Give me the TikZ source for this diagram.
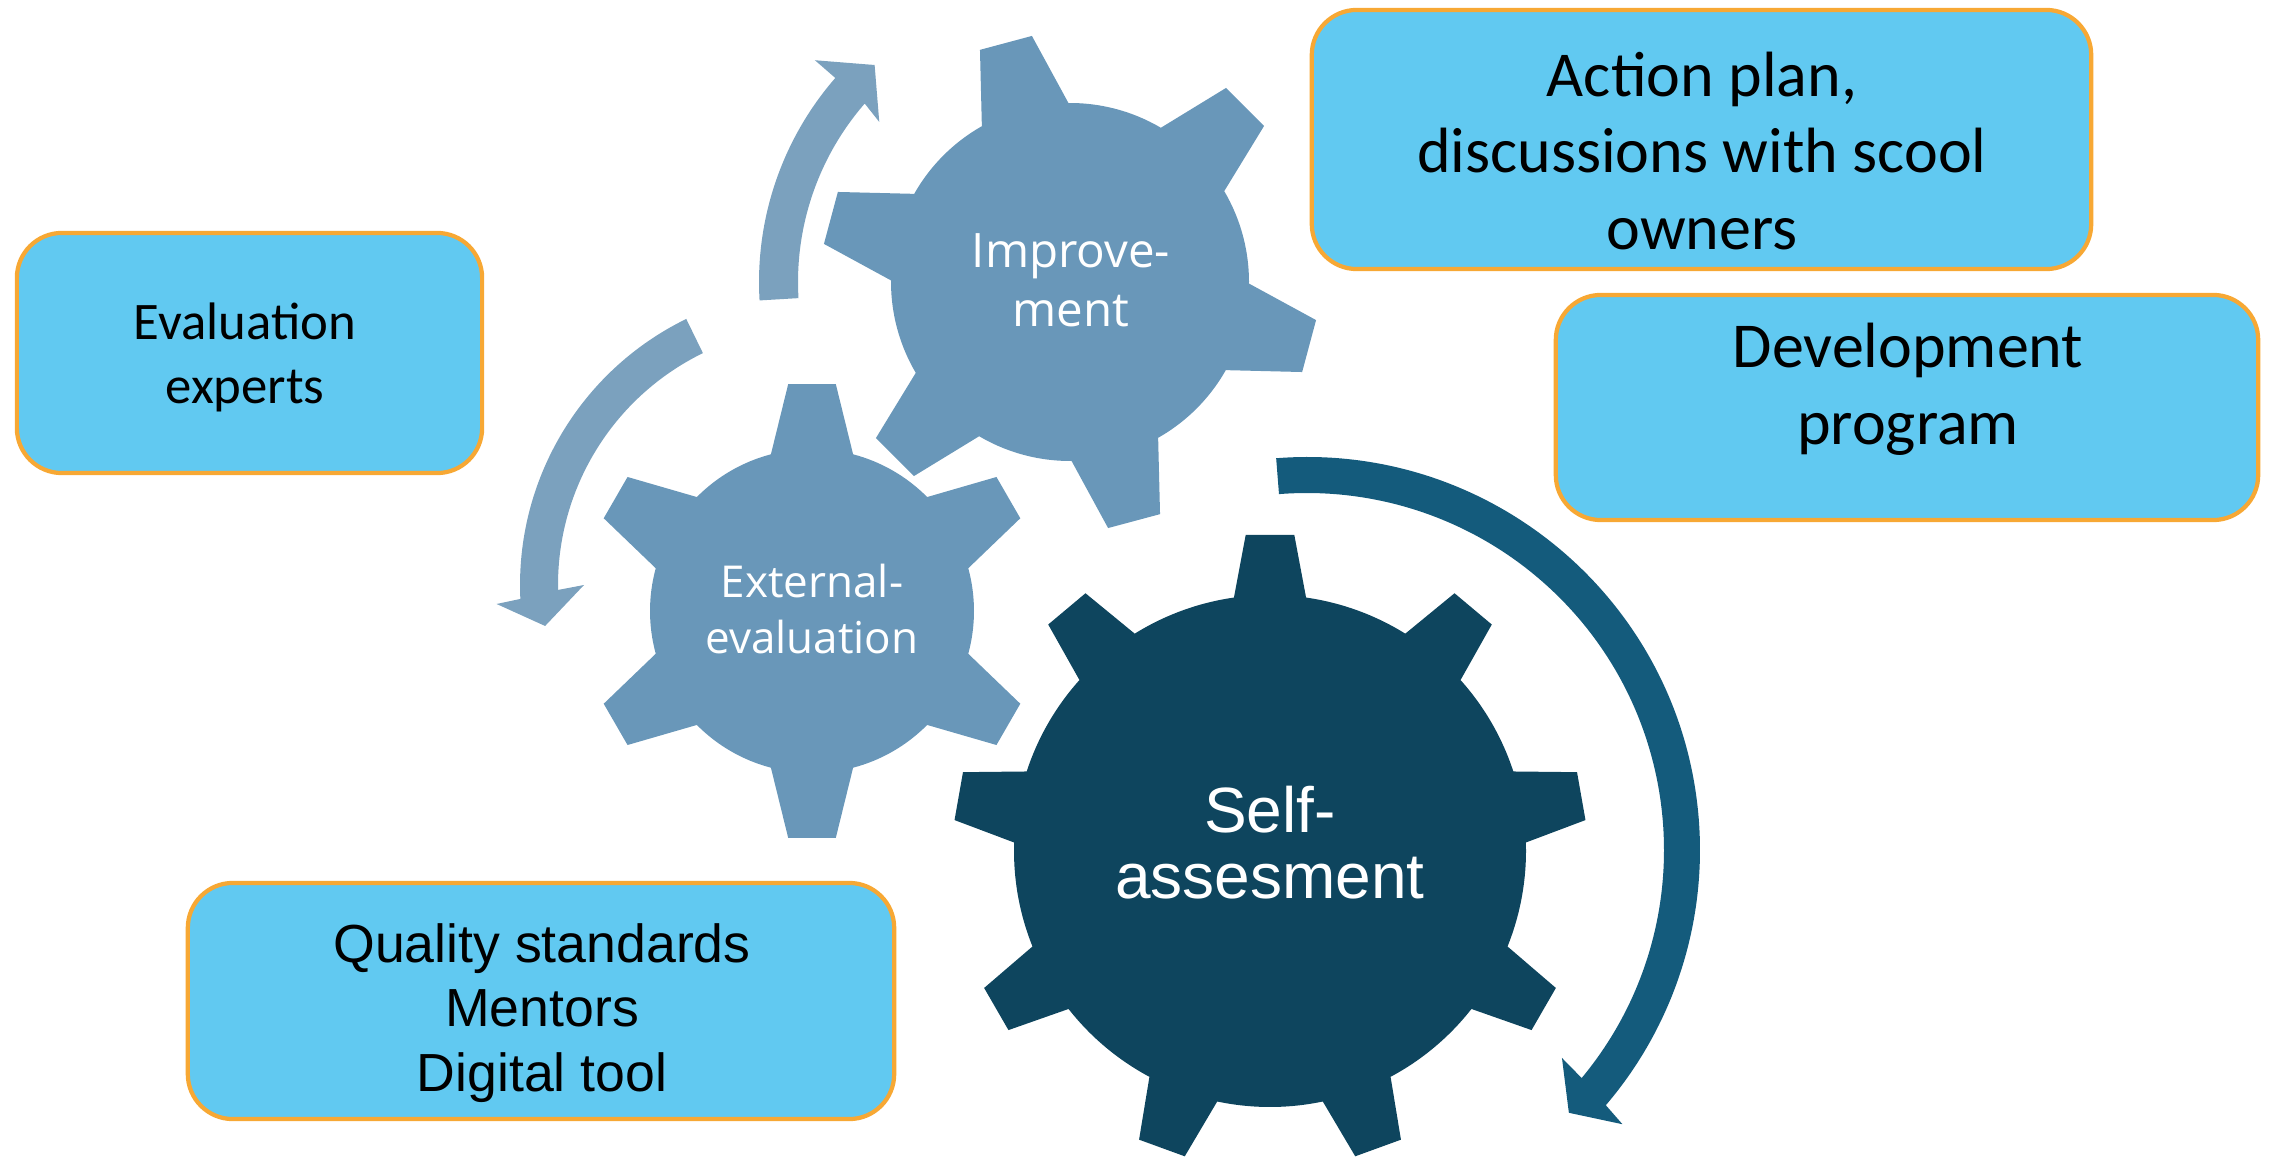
\documentclass[tikz,border=0pt]{standalone}
\usepackage{fontspec}
\setmainfont{Carlito}
\newfontfamily\arialf{Liberation Sans}
\newfontfamily\segoef{Open Sans}
\definecolor{gearlight}{HTML}{6997B9}
\definecolor{arrowlight}{HTML}{7BA1BE}
\definecolor{geardark}{HTML}{0E455E}
\definecolor{arrowdark}{HTML}{145B7C}
\definecolor{boxfill}{HTML}{61C9F1}
\definecolor{boxborder}{HTML}{F7A834}
% #1,#2 centre; #3 teeth; #4 first tooth angle; #5 body radius; #6 tip radius;
% #7 half angle at base; #8 half angle at tip; #9 colour
\newcommand\drawgear[9]{%
\begin{scope}[shift={(#1,#2)}]
\pgfmathsetmacro\gstep{360/#3}
\fill[#9] ({#4-#7}:#5) \foreach \k in {1,...,#3}{
 -- ({#4+(\k-1)*\gstep-#8}:#6) -- ({#4+(\k-1)*\gstep+#8}:#6) -- ({#4+(\k-1)*\gstep+#7}:#5)
 arc[start angle={#4+(\k-1)*\gstep+#7}, end angle={#4+\k*\gstep-#7}, radius=#5]} -- cycle;
\end{scope}}
\tikzset{
 infobox/.style={draw=boxborder, line width=1.2pt, fill=boxfill, rounded corners=0.45cm, inner sep=0pt},
 boxtext/.style={align=center, inner sep=0pt, text=black},
 geartext/.style={align=center, inner sep=0pt, text=white}
}
\begin{document}
\begin{tikzpicture}[x=0.01cm,y=-0.01cm]
\useasboundingbox (0,0) rectangle (2269,1158);
% curved arrows
\begin{scope}[shift={(1070,282)}]
\fill[arrowlight] (176.6:311) arc[start angle=176.6, end angle=221, radius=311]
  -- (221:338) -- (228:292) -- (220:249) -- (221:272)
  arc[start angle=221, end angle=176.6, radius=272] -- cycle;
\end{scope}
\begin{scope}[shift={(816,585)}]
\fill[arrowlight] (244:296) arc[start angle=244, end angle=177.3, radius=296]
  -- (176.6:320) -- (171.4:274) -- (180:232) -- (178.9:258)
  arc[start angle=178.9, end angle=244, radius=258] -- cycle;
\end{scope}
\begin{scope}[shift={(1307,850)}]
\fill[arrowdark] (-94.5:393) arc[start angle=-94.5, end angle=40.5, radius=393]
  -- (41:418) -- (45.1:371) -- (39.2:329) -- (39.7:357)
  arc[start angle=39.7, end angle=-94.5, radius=357] -- cycle;
\end{scope}
% gears
\drawgear{1070}{282}{6}{-105}{179}{249}{14.5}{6.2}{gearlight}
\drawgear{812}{611}{6}{-90}{162}{228}{14.7}{6.0}{gearlight}
\drawgear{1270}{851}{9}{-90}{256}{317}{8.1}{4.4}{geardark}
\node[geartext, font=\segoef\fontsize{13.5}{16.8}\selectfont] (tImp) at (1071,280) {Improve-\\ment};
\node[geartext, font=\segoef\fontsize{12.5}{15.8}\selectfont] (tExt) at (812,609) {External-\\evaluation};
\node[geartext, font=\arialf\fontsize{18.2}{18.8}\selectfont] (tSelf) at (1270,843) {Self-\\assesment};
% boxes
\node[infobox, minimum width=4.65cm, minimum height=2.40cm] (bEval) at (249.5,353) {};
\node[infobox, minimum width=7.79cm, minimum height=2.59cm] (bAction) at (1701.5,139.5) {};
\node[infobox, minimum width=7.02cm, minimum height=2.25cm] (bDev) at (1907,407.5) {};
\node[infobox, minimum width=7.06cm, minimum height=2.36cm] (bQual) at (541,1001) {};
\node[boxtext, font=\fontsize{15}{18.2}\selectfont] (tEval) at (245,357) {Evaluation\\experts};
\node[boxtext, font=\fontsize{18.2}{21.8}\selectfont] (tAction) at (1702,151) {Action plan,\\discussions with scool\\owners};
\node[boxtext, font=\fontsize{18.2}{22}\selectfont] (tDev) at (1908,389) {Development\\program};
\node[boxtext, font=\arialf\fontsize{15.25}{18.35}\selectfont] (tQual) at (542,1013) {Quality standards\\Mentors\\Digital tool};
\end{tikzpicture}
\end{document}
